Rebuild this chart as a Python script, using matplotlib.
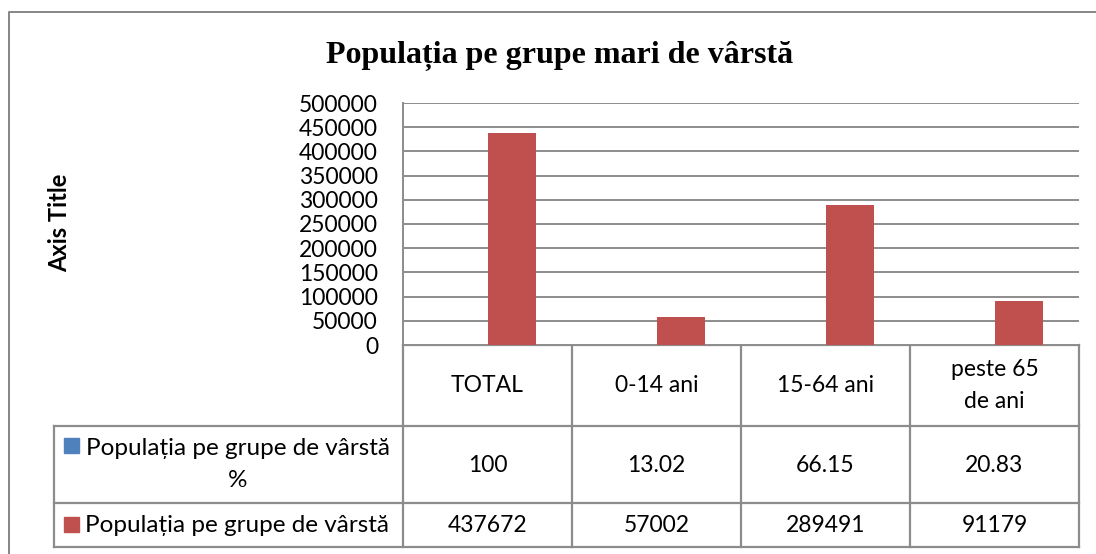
import numpy as np
import matplotlib
matplotlib.use("Agg")
import matplotlib.pyplot as plt
from matplotlib.patches import Rectangle

# data
categories = ["TOTAL", "0-14 ani", "15-64 ani", "peste 65\nde ani"]
pct_values = [100, 13.02, 66.15, 20.83]
pop_values = [437672, 57002, 289491, 91179]
pct_labels = ["100", "13.02", "66.15", "20.83"]
pop_labels = ["437672", "57002", "289491", "91179"]
series_names = ["Populația pe grupe de vârstă\n%", "Populația pe grupe de vârstă"]
series_colors = ["#4F81BD", "#C0504D"]
yticks = np.arange(0, 500001, 50000)

W, H = 1096, 554
sans = ["Lato", "DejaVu Sans"]
grid_c = "#8c8c8c"

fig = plt.figure(figsize=(W / 100, H / 100), dpi=100)

# pixel overlay for frame and table
pax = fig.add_axes([0, 0, 1, 1])
pax.set_xlim(0, W)
pax.set_ylim(H, 0)
pax.axis("off")

# plot area (pixel box)
L, R, T, B = 403, 1079, 103, 345
ax = fig.add_axes([L / W, 1 - B / H, (R - L) / W, (B - T) / H])

n = len(categories)
x = np.arange(n)
bw = 1 / 3.5
ax.bar(x - bw / 2, pct_values, bw, color=series_colors[0])
ax.bar(x + bw / 2, pop_values, bw, color=series_colors[1])
ax.set_xlim(-0.5, n - 0.5)
ax.set_ylim(0, 500000)
ax.set_yticks(yticks)
ax.set_yticklabels([str(v) for v in yticks], fontfamily=sans, fontsize=16.5)
ax.set_xticks([])
ax.tick_params(axis="y", length=0, pad=18)
ax.yaxis.grid(True, color=grid_c, lw=1.4)
ax.set_axisbelow(True)
for s in ["top", "right", "bottom"]:
    ax.spines[s].set_visible(False)
ax.spines["left"].set_color(grid_c)
ax.spines["left"].set_linewidth(1.4)

# outer frame
pax.plot([9, 9, W + 5], [H + 5, 12, 12], color="#868686", lw=1.4, clip_on=False)

# title and axis title
fig.text(560 / W, 1 - 63 / H, "Populația pe grupe mari de vârstă",
         family="Liberation Serif", weight="bold", fontsize=23,
         ha="center", va="baseline")
fig.text(60 / W, 1 - 223 / H, "Axis Title", family=sans, weight="bold",
         fontsize=17, rotation=90, ha="center", va="center")

# data table
TL = 54
rows = [B, 426, 503, 547]
cols = L + (R - L) * np.arange(n + 1) / n
lw = 1.6
for c in cols:
    pax.plot([c, c], [rows[0], rows[-1]], color=grid_c, lw=lw)
pax.plot([TL, TL], [rows[1], rows[-1]], color=grid_c, lw=lw)
pax.plot([L, R], [rows[0], rows[0]], color=grid_c, lw=lw)
for r in rows[1:]:
    pax.plot([TL, R], [r, r], color=grid_c, lw=lw)

cx = (cols[:-1] + cols[1:]) / 2
for i in range(n):
    pax.text(cx[i], (rows[0] + rows[1]) / 2, categories[i], family=sans,
             fontsize=16.5, ha="center", va="center", linespacing=1.6)
    pax.text(cx[i], (rows[1] + rows[2]) / 2 + 1, pct_labels[i], family=sans,
             fontsize=16.5, ha="center", va="center")
    pax.text(cx[i], (rows[2] + rows[3]) / 2 + 1, pop_labels[i], family=sans,
             fontsize=16.5, ha="center", va="center")

# legend keys in the row headers
pax.add_patch(Rectangle((64, 438), 15, 15, color=series_colors[0]))
pax.text(238, (rows[1] + rows[2]) / 2, series_names[0], family=sans,
         fontsize=17.5, ha="center", va="center", linespacing=1.6)
pax.add_patch(Rectangle((64, 517), 15, 15, color=series_colors[1]))
pax.text(85, (rows[2] + rows[3]) / 2 + 1, series_names[1], family=sans,
         fontsize=17.5, ha="left", va="center")

fig.savefig("out.png", dpi=100)
